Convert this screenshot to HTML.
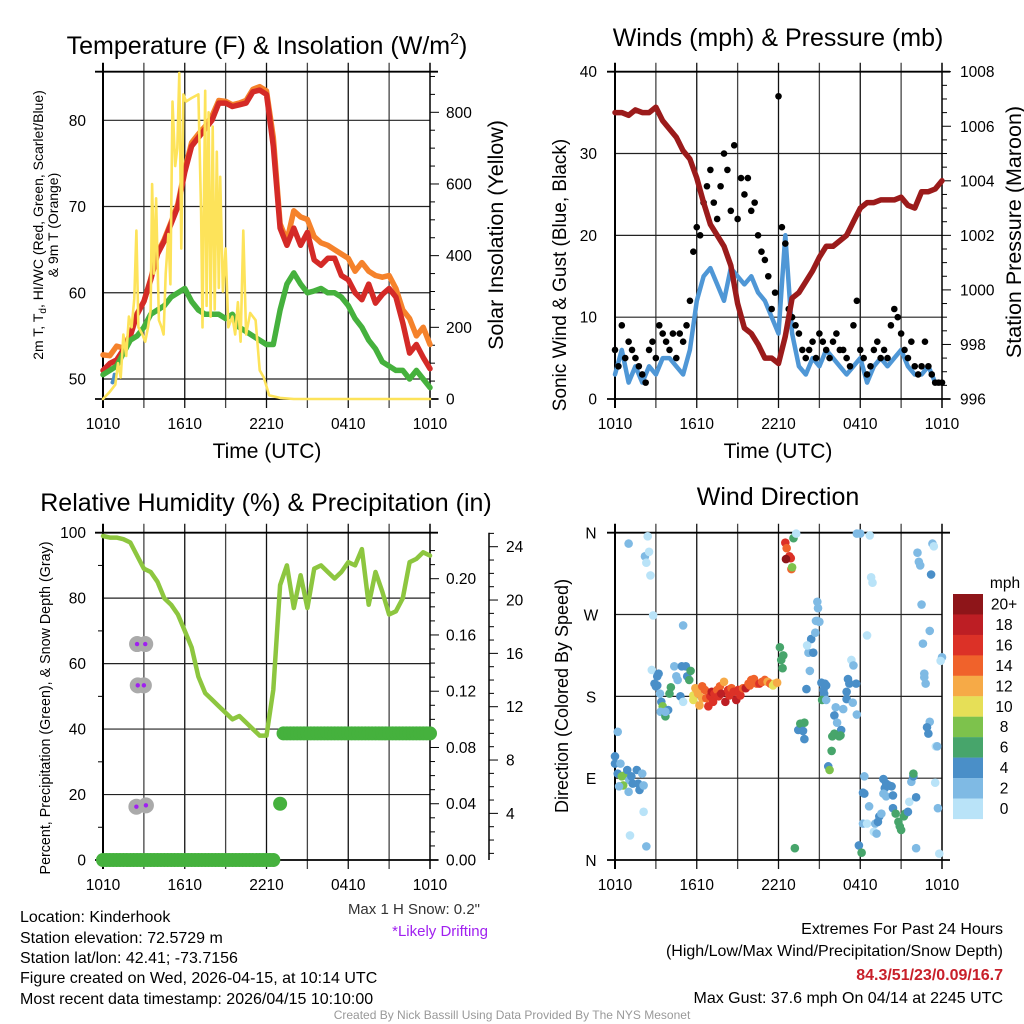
<!DOCTYPE html>
<html><head><meta charset="utf-8"><style>
html,body{margin:0;padding:0;background:#fff;}
svg{display:block;font-family:"Liberation Sans",sans-serif;}
</style></head><body>
<svg id="fig" width="1024" height="1024" viewBox="0 0 1024 1024" xmlns="http://www.w3.org/2000/svg">
<rect width="1024" height="1024" fill="#fff"/>
<text x="267" y="54" font-size="25" text-anchor="middle">Temperature (F) &amp; Insolation (W/m<tspan font-size="16" dy="-10">2</tspan><tspan dy="10">)</tspan></text>
<text x="778" y="46" font-size="25" text-anchor="middle">Winds (mph) &amp; Pressure (mb)</text>
<text x="266" y="511" font-size="25" text-anchor="middle">Relative Humidity (%) &amp; Precipitation (in)</text>
<text x="778" y="505" font-size="25" text-anchor="middle">Wind Direction</text>

<text transform="translate(43,225) rotate(-90)" font-size="14" text-anchor="middle">2m T, T<tspan font-size="10" dy="3">d</tspan><tspan dy="-3">, HI/WC (Red, Green, Scarlet/Blue)</tspan></text>
<text transform="translate(58,225) rotate(-90)" font-size="14" text-anchor="middle">&amp; 9m T (Orange)</text>
<text transform="translate(503,235) rotate(-90)" font-size="21.5" text-anchor="middle">Solar Insolation (Yellow)</text>
<text x="267" y="458" font-size="21" text-anchor="middle">Time (UTC)</text>
<text transform="translate(566,275) rotate(-90)" font-size="19" text-anchor="middle">Sonic Wind &amp; Gust (Blue, Black)</text>
<text transform="translate(1021,232) rotate(-90)" font-size="21.5" text-anchor="middle">Station Pressure (Maroon)</text>
<text x="778" y="458" font-size="21" text-anchor="middle">Time (UTC)</text>
<text transform="translate(50,708) rotate(-90)" font-size="14.3" text-anchor="middle">Percent, Precipitation (Green), &amp; Snow Depth (Gray)</text>
<text transform="translate(568,696) rotate(-90)" font-size="18" text-anchor="middle">Direction (Colored By Speed)</text>

<g id="layer"></g>

<text x="480" y="914" font-size="15" fill="#333" text-anchor="end">Max 1 H Snow: 0.2"</text>
<text x="488" y="936" font-size="15" fill="#a020f0" text-anchor="end">*Likely Drifting</text>
<g font-size="16">
<text x="20" y="922">Location: Kinderhook</text>
<text x="20" y="943">Station elevation: 72.5729 m</text>
<text x="20" y="963">Station lat/lon: 42.41; -73.7156</text>
<text x="20" y="983">Figure created on Wed, 2026-04-15, at 10:14 UTC</text>
<text x="20" y="1004">Most recent data timestamp: 2026/04/15 10:10:00</text>
</g>
<g font-size="16" text-anchor="end">
<text x="1003" y="934">Extremes For Past 24 Hours</text>
<text x="1003" y="956">(High/Low/Max Wind/Precipitation/Snow Depth)</text>
<text x="1003" y="980" fill="#c8202a" font-weight="bold">84.3/51/23/0.09/16.7</text>
<text x="1003" y="1003">Max Gust: 37.6 mph On 04/14 at 2245 UTC</text>
</g>
<text x="512" y="1019" font-size="12" fill="#999" text-anchor="middle">Created By Nick Bassill Using Data Provided By The NYS Mesonet</text>
</svg>
<script>
// ---------- data ----------
const halfHours = [0,0.5,1,1.5,2,2.5,3,3.5,4,4.5,5,5.5,6,6.5,7,7.5,8,8.5,9,9.5,10,10.5,11,11.5,12,12.5,13,13.5,14,14.5,15,15.5,16,16.5,17,17.5,18,18.5,19,19.5,20,20.5,21,21.5,22,22.5,23,23.5,24];
const timeTickLabels = ["1010","1610","2210","0410","1010"];
const tempRed = [51,51.8,52.2,53.4,55,57.5,59,61.5,64.5,66,68,70,74,77,78,79,80,82,82,81.6,81.8,82,83.3,83.5,83,77,67.5,65.5,67.5,65.5,67,63.8,63.2,64,64,62,61.5,60,59.2,61,58.8,59.8,60.5,59.5,56.5,53,54,52.5,51.2];
const temp9m = [52.8,52.7,53.8,53.6,55.2,57.6,59,61.6,64.6,66.2,68.2,70.3,74.3,77.4,78.4,79.3,80.5,82.3,82.2,81.8,82,82.3,83.6,83.9,83.4,78,68,66,69.5,68.8,68.5,66.5,65.8,65.5,65,64.5,64,62.5,63.5,62.5,62,61.8,62,60.5,58,57,55,56,54];
const dewGreen = [50.5,51,51.5,53,54.5,55,56,57.5,58,58.5,59.5,60,60.5,59,58,57.5,57.5,57.5,57,57.5,56,55.5,55,54.5,54,54,58,61,62.3,61,60,60.2,60.5,60,60,59.5,58.5,57,56,54.5,53.5,52,51.5,51,51,50,51,50,49];
const windChillHours = [0.7,0.8,0.85];
const windChillVals = [49.6,50,50.5];
const insHours = [0,0.5,0.9,1.1,1.3,1.5,1.7,1.9,2.1,2.3,2.45,2.6,2.9,3.1,3.3,3.5,3.6,3.75,3.9,4.1,4.3,4.45,4.6,4.8,4.95,5.1,5.3,5.45,5.6,5.75,5.9,6.1,6.5,7.0,7.2,7.3,7.5,7.6,7.75,7.9,8.05,8.2,8.35,8.5,8.6,8.8,9.0,9.2,9.5,9.7,9.9,10.1,10.3,10.5,10.8,11.2,11.5,11.8,12.2,13,14,24];
const insVals = [0,20,40,100,60,180,120,230,200,280,470,200,180,160,200,250,600,350,560,220,200,180,350,460,320,830,650,700,910,420,850,830,840,850,520,200,860,260,800,230,760,250,690,310,620,300,420,200,230,180,270,160,470,180,240,220,80,60,10,3,0,0];
const pressure = [1006.5,1006.5,1006.4,1006.6,1006.5,1006.5,1006.7,1006.2,1005.9,1005.6,1005.1,1004.8,1004.1,1003.2,1002.4,1002.0,1001.6,1000.9,999.5,998.6,998.4,998.0,997.5,997.5,997.3,998.3,999.7,999.9,1000.3,1000.7,1001.2,1001.6,1001.6,1001.8,1002.0,1002.5,1003.0,1003.2,1003.2,1003.3,1003.3,1003.3,1003.4,1003.1,1003.0,1003.6,1003.6,1003.7,1004.0];
const windSpeed = [3,6,2,4,2,4,3,5,5,4,3,6,12,15,16,14,12,16,15,14,15,13,12,10,8,20,8,4,3,5,4,6,5,4,3,4,5,2,4,5,4,5,6,4,3,3,4,2,2];
const gusts = [6,4,9,5,7,6,5,4,3,2,6,7,5,9,8,7,6,8,5,8,7,9,12,18,21,20,24,26,28,24,22,26,30,28,23,31,22,27,25,27,23,24,20,18,17,15,11,13,37,21,19,11,10,9,8,6,5,6,7,5,8,7,6,5,7,8,6,6,5,4,9,12,6,5,3,4,6,7,5,6,5,9,11,10,8,6,5,7,4,3,4,7,4,3,2,2,2];
const rhVals = [99,98.5,98.5,98,97,93,89,88,85,80,78,75,70,65,56,51,49,47,45,43,44,42,40,38,38,52,84,90,77,87,77,89,90,88,86,88,91,90,95,78,88,82,75,76,80,91,92,94,93];
const precipVals = [];
for(let i=0;i<=96;i++){ precipVals.push(i<=50?0:(i===51?null:(i===52?0.04:0.09))); }
const snowHours = [2.5,3.1,2.55,3.0,2.45,3.15];
const snowDepth = [16.7,16.7,13.6,13.6,4.5,4.6];
const dirHours = [0,0.2,0,0.4,0.2,0.5,0.7,0.9,1.05,1.2,1.3,1.6,1.7,1.8,2,2.1,0.6,0.3,1,2.1,1.1,2.3,1,2.4,2.2,2.5,2.3,2.6,2.8,2.7,3.2,3.1,2.9,3.1,3,3.3,3.4,3.5,3.35,3.7,3.9,3.7,4.1,4,4.35,4.5,4.6,4.8,4.9,5,5,5.2,5.3,5.45,5.55,5.75,5.75,5.9,6,6.1,6.2,6.4,6.4,6.6,6.7,6.85,7,7.1,7.2,7.3,7.5,7.6,7.7,7.8,8,8.1,8.3,8.4,8.55,8.7,8.9,9.05,9.2,9.4,9.6,9.8,9.9,10,10.2,10.4,10.6,10.8,11,11.2,11.4,11.6,11.7,11.9,12.1,12.2,12.35,12.3,12.5,12.6,12.8,12.9,12.55,12.95,13,13.1,13.3,13.2,13.45,13.6,13.7,13.9,13.8,13.9,14.05,14.3,14.2,14.55,14.4,14.1,14.7,14.75,14.85,14.9,14.85,15,15.15,15.3,15.4,15.5,15.35,15.2,15.5,16.2,16.1,16.3,16.6,15.95,16.1,16.45,16.55,15.9,15.65,15.75,16.75,17,17.1,17.2,17.35,17.5,17.7,17,17.45,17.75,17.75,18,18.7,18.8,18.9,18.5,17.9,18.1,18.3,18.2,18.3,18.65,18.2,18.5,19.1,19.3,19.4,19.55,19,19.2,19.7,19.8,19.9,20.1,20.3,19.7,19.9,20.4,20.4,20.6,20.8,20.9,21,21.2,21.3,21.5,21.6,21.75,21.9,21.9,22.1,22.1,22.2,22.3,22.4,22.5,22.6,22.7,22.8,22.7,23.1,23.2,23.3,23.4,23.1,22.9,23,23.55,23.65,23.5,23.7,23.8,24,23.9];
const dirDegrees = [114,141,106,106,95,92,93,99,88,92,84,99,84,77,95,82,82,81,75,53,27,15,348,356,334,339,327,313,269,209,205,202,194,192,191,183,174,169,163,158,165,163,190,183,213,202,198,180,213,258,174,213,202,198,208,181,176,189,187,183,170,191,178,187,178,169,180,185,174,183,187,180,191,183,196,174,187,181,189,185,176,187,181,189,189,194,192,198,199,194,194,196,198,196,194,192,194,195,234,220,225,211,349,343,334,332,331,320,322,354,359,13,143,150,150,151,142,133,188,208,228,228,243,236,250,263,263,277,284,262,195,187,194,192,183,176,176,168,159,151,143,136,139,136,137,120,103,99,166,185,199,194,220,214,194,177,173,160,359,359,357,311,305,247,16,8,92,74,73,59,40,40,40,42,48,51,31,29,89,79,84,82,81,73,70,71,57,51,42,37,33,48,51,53,64,86,92,95,69,13,338,328,324,281,238,205,194,201,252,314,348,345,152,146,139,125,125,85,57,7,223,219];
const dirSpeeds = [4,2,4,2,4,8,8,4,2,4,4,4,4,4,2,2,8,2,2,0,0,2,2,0,2,0,0,0,0,0,4,4,4,4,4,2,4,8,2,6,4,2,6,6,2,2,2,4,4,2,0,4,4,6,6,10,10,12,12,12,12,14,12,14,14,16,16,18,16,16,14,16,14,18,12,18,16,16,14,16,18,16,16,14,18,14,14,14,14,14,16,14,14,12,14,10,10,12,6,6,6,6,16,14,16,16,20,14,8,6,0,6,4,6,6,6,4,4,4,2,2,4,4,0,2,2,2,2,2,2,4,4,4,4,4,6,2,2,4,2,4,6,6,6,6,6,4,8,2,4,4,4,0,2,4,4,2,2,2,2,0,0,0,0,4,6,2,4,4,2,2,0,2,4,4,2,0,2,4,4,4,4,4,2,2,4,4,6,6,6,6,6,6,4,0,2,4,6,4,2,2,2,2,2,2,2,2,2,2,4,2,0,2,4,4,0,2,0,2,0,2,0];
const speedBins = ["0","2","4","6","8","10","12","14","16","18","20+"];
const speedColors = ["#b9e3f8","#7fbae4","#4a8fc8","#47a56b","#7dc24c","#e6df57","#f6aa47","#f0622b","#dc3127","#bd1e24","#8e1519"];

// ---------- helpers ----------
const NS="http://www.w3.org/2000/svg";
const layer=document.getElementById('layer');
function el(tag,attrs,parent){const e=document.createElementNS(NS,tag);for(const k in attrs)e.setAttribute(k,attrs[k]);(parent||layer).appendChild(e);return e;}
function txt(s,x,y,size,anchor,parent){const t=el('text',{x:x,y:y,'font-size':size,'text-anchor':anchor||'middle'},parent);t.textContent=s;return t;}
function lin(d0,d1,r0,r1){return v=>r0+(v-d0)*(r1-r0)/(d1-d0);}

const L={x0:103,x1:430}, R={x0:615,x1:942}, T={y0:71.7,y1:399}, B={y0:532.7,y1:860};
const xL=lin(0,24,L.x0,L.x1), xR=lin(0,24,R.x0,R.x1);
const yTemp=lin(50,80,379,120.3), yIns=lin(0,800,399,112.3);
const yWind=lin(0,40,T.y1,T.y0), yPres=lin(996,1008,T.y1,T.y0);
const yRH=lin(0,100,B.y1,B.y0), yPrec=lin(0,0.2,B.y1,578.7), ySnow=lin(0,24,866.7,546.7);
const yDir=lin(0,360,B.y1,B.y0);

function frame(x0,x1,y0,y1,hvals,name){
  const g=el('g',{});
  
  
  for(let h=3;h<24;h+=3){const x=lin(0,24,x0,x1)(h);el('line',{x1:x,x2:x,y1:y0-9,y2:y1+9,stroke:(h%6===0?'#111':'#444'),'stroke-width':1.3},g);}
  hvals.forEach(y=>el('line',{x1:x0,x2:x1,y1:y,y2:y,stroke:'#222','stroke-width':1.2},g));
  el('line',{x1:x0,x2:x0,y1:y0-9,y2:y1+9,stroke:'#000','stroke-width':2},g);
  el('line',{x1:x1,x2:x1,y1:y0-9,y2:y1+9,stroke:'#000','stroke-width':1.5},g);
  el('line',{x1:x0-8,x2:x1+8,y1:y0,y2:y0,stroke:'#000','stroke-width':1.8},g);
  el('line',{x1:x0-8,x2:x1+8,y1:y1,y2:y1,stroke:'#000','stroke-width':1.8},g);
  const lg=el('g',{});
  
  
  timeTickLabels.forEach((s,i)=>txt(s,lin(0,24,x0,x1)(i*6),y1+30,15.5,'middle',lg));
}
function yTicks(vals,fy,x,anchor,fmt,name){
  const g=el('g',{});
  
  
  vals.forEach(v=>{const y=fy(v);txt(fmt(v),x,y+5.5,15.5,anchor,g);});
  return g;
}
function pline(xs,ys,fx,fy,color,w,name,parent){
  const pts=[];xs.forEach((h,i)=>{if(ys[i]!==null)pts.push(fx(h).toFixed(1)+','+fy(ys[i]).toFixed(1));});
  const p=el('polyline',{points:pts.join(' '),fill:'none',stroke:color,'stroke-width':w,'stroke-linejoin':'round','stroke-linecap':'round'},parent);
  
  
  return p;
}

// ---------- panel 1: temperature ----------
frame(L.x0,L.x1,T.y0,T.y1,[50,60,70,80].map(yTemp),'temp');
yTicks([50,60,70,80],yTemp,86,'end',v=>String(v),'temp-y-tick-labels');
yTicks([0,200,400,600,800],yIns,446,'start',v=>String(v),'insolation-tick-labels');
for(let v=0;v<=900;v+=50){const y=yIns(v);el('line',{x1:L.x1,x2:L.x1+(v%200===0?9:5),y1:y,y2:y,stroke:'#000','stroke-width':1});}
pline(halfHours,temp9m,xL,yTemp,'#f5822b',5.5,'temp-9m-line');
pline(halfHours,tempRed,xL,yTemp,'#d42a27',5.5,'temp-2m-line');
pline(halfHours,dewGreen,xL,yTemp,'#45b13d',5.5,'dewpoint-line');
pline(windChillHours,windChillVals,xL,yTemp,'#4a8fc8',4,'heat-index-windchill-line');
pline(insHours,insVals,xL,yIns,'#fde35a',2.6,'insolation-line');

// ---------- panel 2: wind & pressure ----------
frame(R.x0,R.x1,T.y0,T.y1,[10,20,30].map(yWind),'wind');
yTicks([0,10,20,30,40],yWind,597,'end',v=>String(v),'wind-y-tick-labels');
yTicks([996,998,1000,1002,1004,1006,1008],yPres,960,'start',v=>String(v),'pressure-tick-labels');
for(let v=996;v<=1008.01;v+=0.5){const y=yPres(v);el('line',{x1:R.x1,x2:R.x1+(v%2===0?9:5),y1:y,y2:y,stroke:'#000','stroke-width':1});}
pline(halfHours,windSpeed,xR,yWind,'#4f97d6',4.5,'sonic-wind-line');
const gg=el('g',{});


gusts.forEach((v,i)=>{
  const c=el('circle',{cx:xR(i*0.25),cy:yWind(v),r:3.3,fill:'#000'},gg);
  
  
});
pline(halfHours,pressure,xR,yPres,'#9b1b1b',5.5,'pressure-line');

// ---------- panel 3: RH & precip ----------
frame(L.x0,L.x1,B.y0,B.y1,[20,40,60,80].map(yRH),'rh');
yTicks([0,20,40,60,80,100],yRH,86,'end',v=>String(v),'rh-y-tick-labels');
for(let v=10;v<100;v+=20){const y=yRH(v);el('line',{x1:L.x0-5,x2:L.x0,y1:y,y2:y,stroke:'#000'});}
yTicks([0,0.04,0.08,0.12,0.16,0.20],yPrec,446,'start',v=>v.toFixed(2),'precip-tick-labels');
for(let i=0;i<=22;i++){const v=i*0.01,y=yPrec(v);el('line',{x1:L.x1,x2:L.x1+(i%4===0?9:5),y1:y,y2:y,stroke:'#000','stroke-width':1});}
el('line',{x1:489,x2:489,y1:B.y0,y2:B.y1,stroke:'#000','stroke-width':1.5});
yTicks([4,8,12,16,20,24],ySnow,506,'start',v=>String(v),'snow-depth-tick-labels');
for(let v=1;v<=25;v++){const y=ySnow(v);if(y<B.y0||y>B.y1)continue;el('line',{x1:489,x2:489+(v%4===0?9:5),y1:y,y2:y,stroke:'#000','stroke-width':1});}
pline(halfHours,rhVals,xL,yRH,'#8dc63f',4.5,'rh-line');
const pg=el('g',{});


precipVals.forEach((v,i)=>{ if(v===null)return;
  const c=el('circle',{cx:xL(i*0.25),cy:yPrec(v),r:7,fill:'#45b13d'},pg);
  
  
});
const sg=el('g',{});


snowHours.forEach((h,i)=>{
  const c=el('circle',{cx:xL(h),cy:ySnow(snowDepth[i]),r:8,fill:'#aaa'},sg);
  
  
});
snowHours.forEach((h,i)=>{el('circle',{cx:xL(h),cy:ySnow(snowDepth[i]),r:2.2,fill:'#a020f0'},sg);});

// ---------- panel 4: wind direction ----------
frame(R.x0,R.x1,B.y0,B.y1,[90,180,270].map(yDir),'direction');
const dl=el('g',{});


["N","E","S","W","N"].forEach((s,i)=>txt(s,591,yDir(i*90)+6,15.5,'middle',dl));
const dg=el('g',{});


dirHours.forEach((h,i)=>{
  const c=el('circle',{cx:xR(h),cy:yDir(dirDegrees[i]),r:4.3,fill:speedColors[Math.min(10,dirSpeeds[i]/2)]},dg);
  
  
});
// colorbar
const cb=el('g',{});


txt('mph',1005,588,15.5,'middle',cb);
speedBins.forEach((s,i)=>{
  const k=10-i; const y=594+i*20.45;
  el('rect',{x:953,y:y,width:30,height:20.6,fill:speedColors[k]},cb);
  txt(speedBins[k],1004,y+15.5,15.5,'middle',cb);
});
</script>
</body></html>
